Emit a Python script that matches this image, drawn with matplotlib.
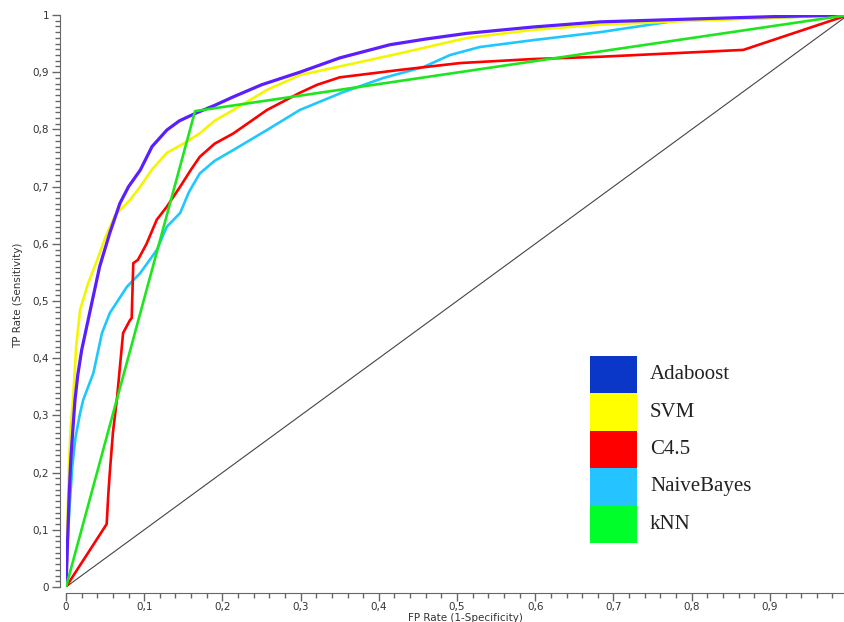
import matplotlib
matplotlib.use('Agg')
import matplotlib.pyplot as plt
from matplotlib.patches import Rectangle
from matplotlib.ticker import MultipleLocator, FuncFormatter

# ROC curves (FP rate, TP rate)
ada_fpr = [0, 0.002, 0.004, 0.006, 0.009, 0.0115, 0.015, 0.02, 0.031, 0.043, 0.056, 0.069, 0.08,
           0.095, 0.11, 0.129, 0.145, 0.167, 0.19, 0.214, 0.25, 0.299, 0.35, 0.414, 0.46, 0.513,
           0.597, 0.683, 0.8, 0.9, 1.0]
ada_tpr = [0, 0.08, 0.16, 0.22, 0.28, 0.327, 0.37, 0.414, 0.484, 0.56, 0.619, 0.671, 0.70,
           0.729, 0.77, 0.799, 0.815, 0.829, 0.842, 0.857, 0.878, 0.9, 0.925, 0.948, 0.958, 0.968,
           0.979, 0.988, 0.993, 0.997, 1.0]

svm_fpr = [0, 0.002, 0.004, 0.006, 0.009, 0.013, 0.018, 0.028, 0.04, 0.05, 0.063, 0.082, 0.095,
           0.11, 0.129, 0.15, 0.171, 0.19, 0.214, 0.257, 0.299, 0.35, 0.427, 0.513, 0.597, 0.683,
           0.8, 0.9, 1.0]
svm_tpr = [0, 0.12, 0.22, 0.28, 0.327, 0.42, 0.484, 0.53, 0.572, 0.61, 0.65, 0.677, 0.70,
           0.73, 0.759, 0.775, 0.793, 0.815, 0.834, 0.869, 0.895, 0.91, 0.933, 0.96, 0.974, 0.983,
           0.99, 0.995, 1.0]

c45_fpr = [0, 0.052, 0.054, 0.056, 0.06, 0.065, 0.073, 0.08, 0.082, 0.084, 0.086, 0.092, 0.103,
           0.116, 0.129, 0.146, 0.16, 0.171, 0.19, 0.214, 0.257, 0.299, 0.321, 0.35, 0.427, 0.504,
           0.597, 0.683, 0.866, 1.0]
c45_tpr = [0, 0.11, 0.16, 0.2, 0.27, 0.327, 0.444, 0.462, 0.467, 0.47, 0.566, 0.572, 0.6,
           0.642, 0.665, 0.70, 0.73, 0.752, 0.775, 0.793, 0.834, 0.864, 0.878, 0.891, 0.904, 0.916,
           0.923, 0.927, 0.939, 1.0]

nb_fpr = [0, 0.002, 0.005, 0.008, 0.012, 0.018, 0.022, 0.035, 0.046, 0.056, 0.078, 0.095, 0.116,
          0.129, 0.146, 0.157, 0.171, 0.19, 0.214, 0.257, 0.299, 0.354, 0.406, 0.457, 0.491, 0.529,
          0.597, 0.683, 0.785, 0.9, 1.0]
nb_tpr = [0, 0.08, 0.15, 0.21, 0.26, 0.304, 0.327, 0.374, 0.444, 0.479, 0.525, 0.549, 0.589,
          0.63, 0.654, 0.69, 0.723, 0.745, 0.764, 0.799, 0.834, 0.865, 0.89, 0.909, 0.93, 0.944,
          0.956, 0.97, 0.991, 0.995, 1.0]

knn_fpr = [0, 0.165, 1.0]
knn_tpr = [0, 0.832, 1.0]

labels = ['Adaboost', 'SVM', 'C4.5', 'NaiveBayes', 'kNN']
legend_colors = ['#0a37c8', '#ffff00', '#ff0000', '#25c3ff', '#00ff2a']

W, H = 845, 622
fig = plt.figure(figsize=(W / 100, H / 100), dpi=100)
ax = fig.add_axes([66 / W, 35 / H, 779 / W, 572 / H])

ax.plot([0, 1], [0, 1], color='#444444', lw=0.8)
ax.plot(nb_fpr, nb_tpr, color='#1ec8ff', lw=1.9)
ax.plot(c45_fpr, c45_tpr, color='#ff0000', lw=1.9)
ax.plot(svm_fpr, svm_tpr, color='#f5f500', lw=1.9)
ax.plot(ada_fpr, ada_tpr, color='#5a1eff', lw=2.3)
ax.plot(knn_fpr, knn_tpr, color='#1ee61e', lw=1.9)

ax.set_xlim(0, 0.996)
ax.set_ylim(0, 1)

for s in ['top', 'right']:
    ax.spines[s].set_visible(False)
for s in ['left', 'bottom']:
    ax.spines[s].set_position(('outward', 4))
    ax.spines[s].set_color('#666666')

ax.xaxis.set_major_locator(MultipleLocator(0.1))
ax.xaxis.set_minor_locator(MultipleLocator(0.02))
ax.yaxis.set_major_locator(MultipleLocator(0.1))
ax.yaxis.set_minor_locator(MultipleLocator(0.01))
fmt = FuncFormatter(lambda v, p: ('%g' % round(v, 2)).replace('.', ','))
ax.xaxis.set_major_formatter(fmt)
ax.yaxis.set_major_formatter(fmt)
ax.tick_params(which='major', length=6, width=1, color='#666666', labelsize=7.5,
               labelcolor='#333333', pad=2)
ax.tick_params(axis='x', which='major', pad=1)
ax.tick_params(which='minor', length=3.5, width=1, color='#666666')

fig.text(465 / W, 1 - 618 / H, 'FP Rate (1-Specificity)', ha='center', va='center',
         fontsize=7.5, color='#333333')
fig.text(18 / W, 1 - 295 / H, 'TP Rate (Sensitivity)', ha='center', va='center',
         rotation=90, fontsize=7.5, color='#333333')

# legend: stacked colour blocks with labels beside them
top, step = 356, 37.4
for i, (lab, col) in enumerate(zip(labels, legend_colors)):
    y0 = top + i * step
    fig.patches.append(Rectangle((590 / W, 1 - (y0 + step) / H), 47 / W, step / H,
                                 facecolor=col, edgecolor='none', transform=fig.transFigure))
    fig.text(650 / W, 1 - (y0 + step / 2) / H, lab, ha='left', va='center',
             family='Liberation Serif', fontsize=15, color='#222222')

fig.savefig('out.png', dpi=100)
